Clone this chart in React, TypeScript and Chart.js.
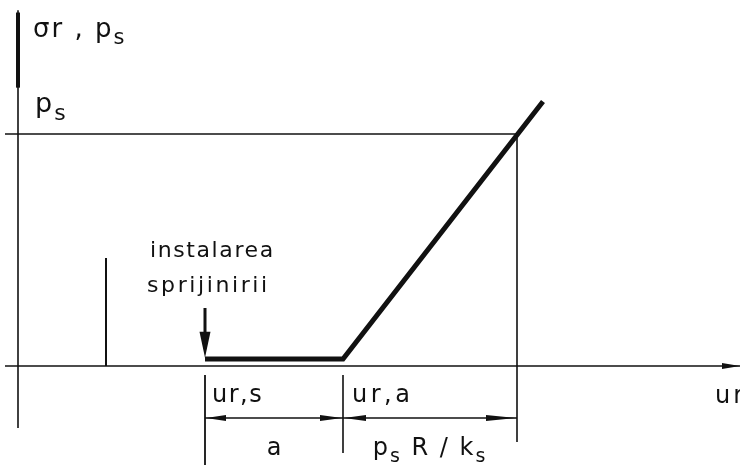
import React, { useEffect, useRef } from "react";
import { Chart, registerables } from "chart.js";

Chart.register(...registerables);

// ---- data (diagram units: x = radial displacement, y = pressure / p_s) ----
const supportPressure = 1; // p_s level
const displacementKeys = ["ur,s", "ur,a", "ur,p"];
const displacementValues = [3.74, 6.5, 9.98]; // u_r,s ; u_r,a ; u_r,a + p_s R / k_s
const curveX = [3.74, 6.5, 10.5];
const curveY = [0.03, 0.03, 1.14];
const markerX = 1.76;
const markerTop = 0.466;
const xAxisSpan = [-0.26, 14.44];
const yAxisSpan = [-0.267, 1.534];
const dimensionLevel = -0.224;
const dimensionBottoms = [-0.427, -0.375, -0.328];
const installArrowY = [0.25, 0.035];

const axisTitleY = ["σ", "r", " , ", "p", "s"];
const axisTitleX = "ur";
const installLabel = ["instalarea", "sprijinirii"];
const dimLabelA = "a";

const INK = "#111";
const FONT = '"DejaVu Sans", sans-serif';

function seg(x1: number, y1: number, x2: number, y2: number, w: number) {
  return {
    data: [
      { x: x1, y: y1 },
      { x: x2, y: y2 },
    ],
    showLine: true,
    borderColor: INK,
    borderWidth: w,
    pointRadius: 0,
    fill: false,
    borderCapStyle: "butt" as const,
  };
}

export default function App() {
  const ref = useRef<HTMLCanvasElement | null>(null);

  useEffect(() => {
    if (!ref.current) return;
    const [urS, urA, urP] = displacementValues;

    const datasets: any[] = [
      seg(0, yAxisSpan[0], 0, yAxisSpan[1], 1.6),
      seg(0, 1.2, 0, yAxisSpan[1] - 0.01, 4),
      seg(xAxisSpan[0], 0, xAxisSpan[1], 0, 1.6),
      seg(xAxisSpan[0], supportPressure, urP, supportPressure, 1.6),
      seg(urP, supportPressure, urP, dimensionBottoms[2], 1.6),
      seg(markerX, 0, markerX, markerTop, 2),
      seg(urS, -0.039, urS, dimensionBottoms[0], 1.8),
      seg(urA, -0.039, urA, dimensionBottoms[1], 1.6),
      seg(urS, dimensionLevel, urP, dimensionLevel, 1.5),
      seg(urS, installArrowY[0], urS, installArrowY[1] + 0.08, 3),
      {
        data: curveX.map((x, i) => ({ x, y: curveY[i] })),
        showLine: true,
        borderColor: INK,
        borderWidth: 5,
        pointRadius: 0,
        fill: false,
        borderJoinStyle: "miter",
        borderCapStyle: "butt",
      },
    ];

    const arrowPlugin = {
      id: "annot",
      afterDatasetsDraw(chart: any) {
        const ctx: CanvasRenderingContext2D = chart.ctx;
        const xs = chart.scales.x;
        const ys = chart.scales.y;
        const X = (v: number) => xs.getPixelForValue(v);
        const Y = (v: number) => ys.getPixelForValue(v);

        const head = (px: number, py: number, dx: number, dy: number, len: number, w: number) => {
          // apex at (px,py), pointing along (dx,dy)
          const nx = -dy, ny = dx;
          ctx.beginPath();
          ctx.moveTo(px, py);
          ctx.lineTo(px - dx * len + nx * w / 2, py - dy * len + ny * w / 2);
          ctx.lineTo(px - dx * len - nx * w / 2, py - dy * len - ny * w / 2);
          ctx.closePath();
          ctx.fill();
        };
        ctx.save();
        ctx.fillStyle = INK;
        ctx.strokeStyle = INK;
        // install arrow head
        head(X(urS), Y(installArrowY[1]), 0, 1, 26, 11);
        // dimension arrows
        const dy = Y(dimensionLevel);
        head(X(urS) + 1, dy, -1, 0, 20, 6);
        head(X(urA) - 1, dy, 1, 0, 22, 6);
        head(X(urA) + 1, dy, -1, 0, 22, 6);
        head(X(urP) - 1, dy, 1, 0, 30, 6);
        // x axis arrow
        head(X(xAxisSpan[1]), Y(0), 1, 0, 18, 6);

        // texts
        const rich = (parts: { t: string; sub?: boolean }[], x: number, y: number, size: number, spacing: number, align: "left" | "center" = "left") => {
          const sub = Math.round(size * 0.8);
          const ls = (ctx as any);
          const widthOf = (p: { t: string; sub?: boolean }) => {
            ctx.font = `${p.sub ? sub : size}px ${FONT}`;
            ls.letterSpacing = `${spacing}px`;
            return ctx.measureText(p.t).width;
          };
          let total = 0;
          parts.forEach((p) => (total += widthOf(p)));
          let cx = align === "center" ? x - total / 2 : x;
          ctx.textBaseline = "alphabetic";
          ctx.textAlign = "left";
          parts.forEach((p) => {
            ctx.font = `${p.sub ? sub : size}px ${FONT}`;
            ls.letterSpacing = `${spacing}px`;
            ctx.fillText(p.t, cx, p.sub ? y + size * 0.28 : y);
            cx += ctx.measureText(p.t).width;
          });
          ls.letterSpacing = "0px";
        };

        rich(
          [
            { t: axisTitleY[0] },
            { t: axisTitleY[1] },
            { t: axisTitleY[2] },
            { t: axisTitleY[3] },
            { t: axisTitleY[4], sub: true },
          ],
          X(0.3),
          Y(1.418),
          26,
          2
        );
        rich([{ t: "p" }, { t: "s", sub: true }], X(0.34), Y(1.095), 27, 2);
        rich([{ t: installLabel[0] }], X(2.64), Y(0.47), 22, 1.6);
        rich([{ t: installLabel[1] }], X(2.58), Y(0.319), 22, 2.6);
        rich([{ t: displacementKeys[0] }], X(urS + 0.14), Y(-0.155), 24, 1.5);
        rich([{ t: displacementKeys[1] }], X(urA + 0.18), Y(-0.155), 24, 3.5);
        rich([{ t: axisTitleX }], X(13.94), Y(-0.16), 24, 3);
        rich([{ t: dimLabelA }], X((urS + urA) / 2), Y(-0.384), 24, 0, "center");
        rich(
          [{ t: "p" }, { t: "s", sub: true }, { t: " R / k" }, { t: "s", sub: true }],
          X((urA + urP) / 2),
          Y(-0.384),
          24,
          2,
          "center"
        );
        ctx.restore();
      },
    };

    const chart = new Chart(ref.current, {
      type: "scatter",
      data: { datasets },
      options: {
        animation: false,
        responsive: false,
        maintainAspectRatio: false,
        devicePixelRatio: 1,
        layout: { padding: 0 },
        events: [],
        plugins: { legend: { display: false }, tooltip: { enabled: false } },
        scales: {
          x: { type: "linear", min: -0.36, max: 14.44, display: false },
          y: { type: "linear", min: -0.427, max: 1.578, display: false },
        },
      },
      plugins: [arrowPlugin],
    });
    return () => chart.destroy();
  }, []);

  return (
    <div style={{ position: "fixed", left: 0, top: 0, width: 740, height: 465, background: "#fff" }}>
      <canvas ref={ref} width={740} height={465} style={{ display: "block" }} />
    </div>
  );
}
